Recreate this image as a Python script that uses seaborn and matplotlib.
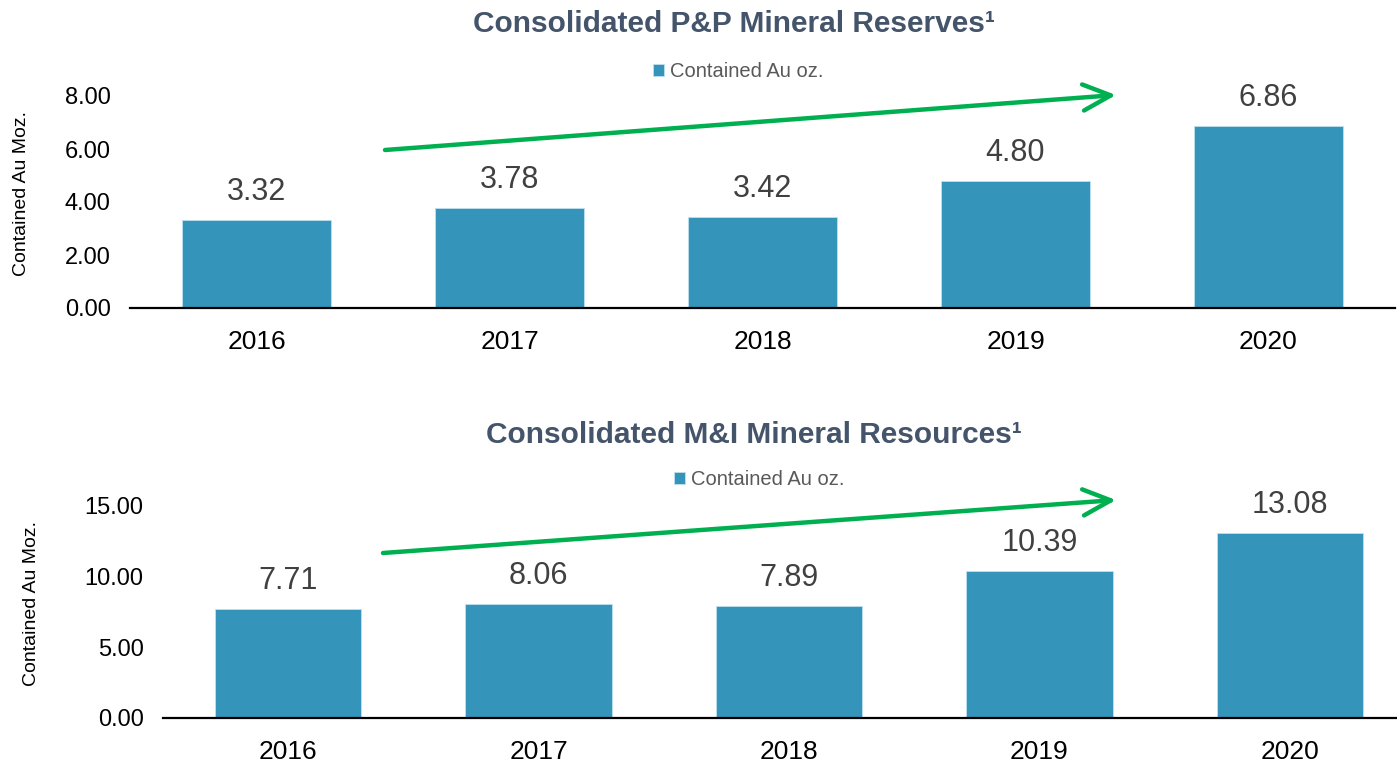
import matplotlib
matplotlib.use("Agg")
import matplotlib.pyplot as plt
from matplotlib.patches import FancyArrowPatch
import seaborn as sns
import pandas as pd

years = ["2016", "2017", "2018", "2019", "2020"]
reserves = [3.32, 3.78, 3.42, 4.80, 6.86]
resources = [7.71, 8.06, 7.89, 10.39, 13.08]
series_name = "Contained Au oz."
title_top = "Consolidated P&P Mineral Reserves¹"
title_bottom = "Consolidated M&I Mineral Resources¹"
y_label = "Contained Au Moz."
yticks_top = [0, 2, 4, 6, 8]
yticks_bottom = [0, 5, 10, 15]

sns.set_theme(style="white")
plt.rcParams["font.family"] = ["Liberation Sans", "DejaVu Sans"]

BAR = "#3594BA"
TITLE_C = "#44546A"
LABEL_C = "#404040"
LEG_C = "#595959"
GREEN = "#00B050"

W, H = 1397, 761
fig = plt.figure(figsize=(W / 100, H / 100), dpi=100)


def fx(x):
    return x / W


def fy(y):
    return 1 - y / H


def panel(rect, values, yticks, bar_w, title, title_xy, leg_xy, ylab_xy, arrow):
    ax = fig.add_axes(rect)
    df = pd.DataFrame({"year": years, "value": values, "series": [series_name] * len(years)})
    sns.barplot(data=df, x="year", y="value", hue="series", palette=[BAR],
                width=bar_w, ax=ax, saturation=1, edgecolor="#BFE0EE", linewidth=0.6)
    ax.set_ylim(yticks[0], yticks[-1])
    ax.set_yticks(yticks)
    ax.set_yticklabels([f"{t:.2f}" for t in yticks], fontsize=17, color="black")
    ax.tick_params(axis="x", labelsize=19, colors="black", pad=15.5, length=0)
    ax.tick_params(axis="y", length=0, pad=14)
    ax.set_xlabel("")
    ax.set_ylabel(y_label, fontsize=14, color="black")
    ax.yaxis.set_label_coords(*ylab_xy)
    for s in ["top", "right", "left"]:
        ax.spines[s].set_visible(False)
    ax.spines["bottom"].set_color("black")
    ax.spines["bottom"].set_linewidth(1.6)
    ax.grid(False)
    for c in ax.containers:
        ax.bar_label(c, fmt="%.2f", padding=9.5, fontsize=22, color=LABEL_C, clip_on=False)
    old = ax.get_legend()
    handles = old.legend_handles
    labels = [t.get_text() for t in old.get_texts()]
    old.remove()
    leg = fig.legend(handles, labels, loc="center", bbox_to_anchor=leg_xy,
                     frameon=False, fontsize=14.5, handlelength=0.55, handleheight=0.55,
                     handletextpad=0.3, borderpad=0)
    for t in leg.get_texts():
        t.set_color(LEG_C)
    fig.text(title_xy[0], title_xy[1], title, ha="center", va="baseline",
             fontsize=21.5, fontweight="bold", color=TITLE_C)
    (x0, y0), (x1, y1) = arrow
    fig.add_artist(FancyArrowPatch(
        (fx(x0), fy(y0)), (fx(x1), fy(y1)), transform=fig.transFigure,
        arrowstyle="->,head_length=1.0,head_width=0.47", mutation_scale=20,
        color=GREEN, linewidth=3.2, shrinkA=0, shrinkB=0, capstyle="round",
        joinstyle="round"))
    return ax


# top panel
panel([fx(130), fy(308), fx(1395) - fx(130), fy(96) - fy(308)],
      reserves, yticks_top, 0.59, title_top, (fx(734), fy(32)), (fx(738), fy(71.5)),
      ((30 - 130) / 1265, 0.542), ((385, 150), (1116, 95)))

# bottom panel
panel([fx(163), fy(718), fx(1415) - fx(163), fy(506) - fy(718)],
      resources, yticks_bottom, 0.585, title_bottom, (fx(754), fy(443)), (fx(759), fy(479.5)),
      ((40 - 163) / 1252, 0.538), ((383, 553), (1116, 500)))

fig.savefig("out.png", dpi=100)
